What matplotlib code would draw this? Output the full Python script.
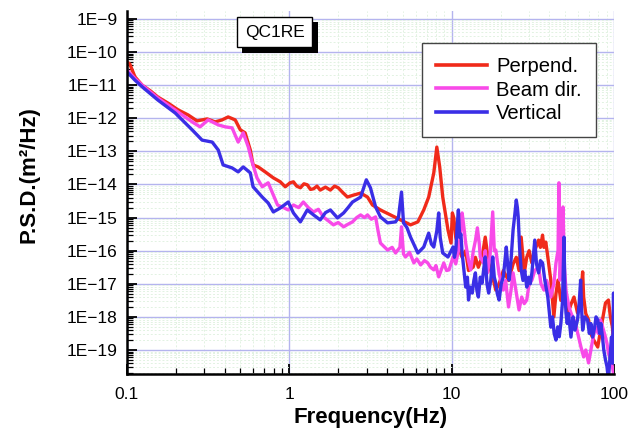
import numpy as np
import matplotlib
matplotlib.use("Agg")
import matplotlib.pyplot as plt
from matplotlib.ticker import LogLocator, FixedLocator, FuncFormatter, NullFormatter
import matplotlib.patheffects as pe

plt.rcParams['font.family'] = ['Liberation Sans', 'DejaVu Sans']

# Perpend. : frequency (Hz) and log10 of PSD (m^2/Hz)
perp_f = [0.100, 0.104, 0.112, 0.124, 0.140, 0.155, 0.180, 0.207, 0.238, 0.270,
          0.312, 0.349, 0.385, 0.420, 0.464, 0.499, 0.534, 0.575, 0.598, 0.643,
          0.710, 0.797, 0.880, 0.944, 1.01, 1.06, 1.11, 1.17, 1.23, 1.29,
          1.35, 1.41, 1.48, 1.55, 1.67, 1.79, 1.90, 2.00, 2.14, 2.28,
          2.49, 2.75, 3.03, 3.25, 3.64, 4.20, 4.84, 5.58, 6.19, 6.73,
          7.22, 7.76, 8.10, 8.44, 8.81, 9.49, 9.91, 10.1, 10.3, 10.6,
          11.0, 11.6, 12.2, 12.7, 13.6, 14.0, 14.6, 15.4, 16.1, 16.9,
          17.9, 18.7, 19.6, 20.8, 22.4, 23.9, 25.0, 26.0, 26.8, 28.0,
          29.0, 30.0, 31.2, 32.5, 34.3, 35.2, 36.3, 37.0, 38.0, 39.1,
          40.8, 42.6, 43.9, 45.2, 47.0, 49.0, 52.1, 54.5, 56.7, 59.6,
          62.0, 64.1, 65.0, 67.0, 69.7, 71.8, 75.0, 79.4, 82.0, 84.9,
          88.6, 92.4, 95.0, 97.8, 100.0]
perp_log = [-10.30, -10.36, -10.75, -11.00, -11.18, -11.36, -11.55, -11.75, -11.90, -12.08,
            -12.02, -12.11, -12.05, -11.96, -12.05, -12.35, -12.44, -12.96, -13.41, -13.47,
            -13.62, -13.80, -13.92, -14.07, -13.95, -13.92, -14.05, -14.10, -13.98, -14.01,
            -14.15, -14.13, -14.05, -14.17, -14.08, -14.17, -14.05, -14.10, -14.25, -14.38,
            -14.32, -14.26, -14.38, -14.62, -14.77, -14.92, -15.07, -15.22, -15.13, -14.77,
            -14.38, -13.65, -12.87, -13.47, -14.38, -15.37, -15.77, -14.86, -15.00, -15.60,
            -15.90, -16.20, -16.00, -16.60, -16.49, -16.20, -16.50, -16.19, -15.59, -16.37,
            -16.80, -17.19, -17.00, -16.60, -16.90, -16.40, -16.20, -16.60, -15.59, -16.67,
            -16.20, -16.00, -16.37, -16.00, -15.68, -15.90, -15.53, -15.90, -15.74, -16.19,
            -16.89, -18.00, -17.30, -16.89, -17.50, -17.20, -17.88, -17.60, -17.40, -17.88,
            -17.60, -16.64, -17.40, -17.90, -18.09, -18.49, -18.70, -18.91, -18.50, -18.09,
            -17.58, -17.49, -18.00, -18.31, -19.00]

# Beam dir.
beam_f = [0.100, 0.112, 0.124, 0.155, 0.198, 0.252, 0.282, 0.316, 0.365, 0.403,
          0.444, 0.484, 0.520, 0.559, 0.590, 0.632, 0.681, 0.741, 0.797, 0.846,
          0.904, 0.985, 1.06, 1.14, 1.22, 1.31, 1.41, 1.51, 1.62, 1.74,
          1.87, 2.00, 2.16, 2.30, 2.45, 2.60, 2.75, 2.90, 3.03, 3.20,
          3.40, 3.52, 3.64, 4.03, 4.30, 4.51, 4.80, 4.91, 5.05, 5.20,
          5.50, 5.85, 6.10, 6.44, 6.80, 7.12, 7.40, 7.76, 8.00, 8.32,
          8.94, 9.30, 9.63, 10.2, 10.6, 11.0, 11.3, 11.6, 11.9, 12.2,
          12.7, 13.1, 13.6, 14.0, 14.4, 14.8, 15.0, 15.7, 16.1, 16.6,
          17.2, 17.9, 18.3, 18.7, 19.6, 20.8, 21.5, 22.4, 23.2, 23.9,
          24.5, 25.0, 26.0, 27.0, 28.0, 29.0, 30.0, 31.2, 32.5, 34.3,
          35.5, 37.0, 38.5, 40.8, 42.6, 43.9, 45.2, 45.8, 46.5, 47.5,
          48.5, 49.5, 50.6, 52.8, 54.5, 56.7, 58.5, 60.5, 62.5, 65.0,
          67.0, 69.7, 72.0, 74.5, 77.1, 80.0, 82.5, 85.0, 88.6, 90.5,
          92.4, 95.0, 97.8, 100.0]
beam_log = [-10.54, -10.80, -11.00, -11.39, -11.75, -12.11, -12.26, -12.05, -12.20, -12.26,
            -12.29, -12.72, -12.44, -12.87, -13.32, -13.80, -14.07, -13.95, -14.32, -14.62,
            -14.68, -14.77, -14.62, -14.70, -14.53, -14.70, -14.83, -14.75, -14.98, -15.10,
            -15.22, -15.15, -15.28, -15.20, -15.13, -15.00, -14.92, -15.00, -14.92, -15.05,
            -14.98, -15.40, -15.77, -15.98, -15.90, -16.07, -15.90, -15.28, -16.10, -16.19,
            -16.05, -16.37, -16.25, -16.43, -16.30, -16.37, -16.50, -16.58, -16.45, -16.79,
            -16.37, -16.60, -16.58, -16.19, -16.40, -16.00, -15.60, -14.86, -15.30, -15.77,
            -16.30, -16.58, -16.00, -15.70, -15.31, -15.80, -16.19, -16.37, -16.00, -16.67,
            -16.20, -14.83, -16.00, -15.98, -16.70, -17.19, -16.90, -17.70, -17.20, -16.67,
            -17.00, -17.28, -17.79, -17.40, -17.60, -17.49, -17.00, -16.89, -16.60, -16.49,
            -17.00, -17.19, -16.90, -17.40, -17.00, -16.37, -16.00, -13.95, -16.89, -16.00,
            -14.68, -16.50, -17.19, -17.70, -17.90, -18.09, -18.30, -18.61, -18.90, -19.21,
            -19.00, -19.39, -19.00, -18.60, -18.31, -18.50, -18.09, -18.30, -18.61, -18.80,
            -19.09, -19.30, -19.51, -19.80]

# Vertical
vert_f = [0.100, 0.112, 0.124, 0.155, 0.198, 0.252, 0.290, 0.335, 0.365, 0.391,
          0.444, 0.484, 0.520, 0.575, 0.598, 0.681, 0.741, 0.797, 0.880, 0.985,
          1.06, 1.17, 1.29, 1.41, 1.55, 1.67, 1.79, 1.98, 2.16, 2.30,
          2.45, 2.75, 2.98, 3.16, 3.40, 3.64, 4.03, 4.51, 4.70, 4.91,
          5.05, 5.30, 5.58, 6.19, 6.73, 7.22, 7.50, 7.76, 8.10, 8.32,
          8.50, 8.81, 9.49, 10.2, 10.4, 10.6, 10.8, 11.0, 11.2, 11.4,
          11.6, 11.9, 12.2, 12.5, 12.7, 13.0, 13.4, 13.7, 14.0, 14.3,
          14.6, 15.0, 15.4, 15.8, 16.1, 16.5, 16.9, 17.4, 17.9, 18.3,
          18.7, 19.1, 19.6, 20.2, 20.8, 21.2, 21.7, 22.2, 22.6, 23.2,
          23.9, 24.5, 25.0, 25.4, 25.7, 26.2, 26.8, 27.5, 28.2, 29.0,
          29.8, 30.5, 31.2, 31.8, 32.5, 33.3, 34.3, 35.2, 36.3, 37.5,
          39.1, 40.0, 40.8, 41.8, 42.8, 43.9, 45.0, 46.0, 47.1, 48.2,
          49.2, 49.8, 50.6, 51.5, 52.5, 54.3, 56.0, 57.5, 59.6, 61.0,
          62.3, 63.2, 64.1, 66.0, 68.7, 70.5, 72.0, 73.9, 76.0, 77.5,
          79.4, 81.5, 83.0, 84.9, 86.5, 88.6, 90.5, 92.4, 94.5, 96.5,
          97.8, 98.6, 99.3, 100.0]
vert_log = [-10.60, -10.85, -11.05, -11.45, -11.84, -12.35, -12.66, -12.72, -12.96, -13.41,
            -13.50, -13.62, -13.47, -13.65, -14.07, -14.38, -14.56, -14.83, -14.71, -14.53,
            -14.86, -15.13, -14.77, -14.92, -15.07, -14.85, -14.77, -15.01, -14.86, -14.70,
            -14.53, -14.38, -13.86, -14.10, -14.68, -14.98, -15.16, -15.13, -15.00, -14.23,
            -15.16, -15.30, -15.59, -16.07, -15.89, -15.47, -15.80, -15.89, -15.40, -14.86,
            -15.60, -16.07, -16.19, -15.89, -16.20, -16.00, -15.30, -14.77, -15.60, -15.50,
            -16.07, -16.60, -17.10, -16.80, -17.49, -17.10, -17.28, -16.90, -16.67, -17.20,
            -17.40, -16.80, -16.98, -16.50, -16.19, -17.00, -17.28, -16.90, -16.19, -16.80,
            -16.98, -17.30, -17.49, -17.00, -16.79, -16.40, -15.89, -16.50, -16.89, -16.30,
            -15.37, -14.90, -14.47, -14.70, -14.98, -15.90, -16.58, -16.90, -16.60, -17.10,
            -16.80, -17.00, -16.67, -16.20, -15.68, -16.40, -16.67, -16.30, -16.37, -16.90,
            -17.40, -17.90, -18.31, -18.00, -18.50, -18.70, -18.30, -18.60, -18.18, -17.50,
            -15.59, -17.20, -17.88, -18.20, -17.90, -18.61, -18.00, -18.40, -18.09, -17.60,
            -16.89, -17.80, -18.40, -18.00, -18.09, -18.50, -18.20, -18.61, -18.30, -18.00,
            -18.09, -18.50, -18.20, -18.61, -19.00, -19.30, -19.50, -19.90, -19.20, -18.61,
            -19.40, -18.40, -17.28, -18.50]

series = [("Perpend.", perp_f, perp_log, "#f02a1a"),
          ("Beam dir.", beam_f, beam_log, "#f84ae8"),
          ("Vertical", vert_f, vert_log, "#3a2ee6")]

fig = plt.figure(figsize=(6.42, 4.36), dpi=100)
ax = fig.add_axes([0.1978, 0.1422, 0.7586, 0.8326])

for name, f, lg, col in series:
    ax.plot(f, 10 ** np.array(lg), color=col, lw=2.4, label=name)

ax.set_xscale("log")
ax.set_yscale("log")
ax.set_xlim(0.1, 100)
ax.set_ylim(10 ** -19.725, 10 ** -8.76)

ax.xaxis.set_major_locator(FixedLocator([0.1, 1, 10, 100]))
ax.xaxis.set_major_formatter(FuncFormatter(lambda v, p: "%g" % v))
ax.xaxis.set_minor_locator(LogLocator(base=10, subs=np.arange(2, 10)))
ax.xaxis.set_minor_formatter(NullFormatter())
ax.yaxis.set_major_locator(FixedLocator(10.0 ** np.arange(-19, -8)))
ax.yaxis.set_major_formatter(FuncFormatter(lambda v, p: "1E\u2212%d" % round(-np.log10(v))))
ax.yaxis.set_minor_locator(LogLocator(base=10, subs=np.arange(2, 10), numticks=30))
ax.yaxis.set_minor_formatter(NullFormatter())

ax.tick_params(which="both", direction="in", labelsize=12.5, colors="black")
ax.tick_params(which="major", length=7, width=1.3)
ax.tick_params(which="minor", length=4, width=0.9)
ax.tick_params(axis="x", pad=9)
ax.tick_params(axis="y", pad=7)

ax.grid(which="major", color="#b4b4ee", lw=1.0)
ax.grid(which="minor", color="#e2f2e2", lw=0.7, ls=(0, (2, 2)))
ax.set_axisbelow(True)

for s in ["top", "right"]:
    ax.spines[s].set_visible(False)
for s in ["left", "bottom"]:
    ax.spines[s].set_linewidth(1.8)

ax.set_xlabel("Frequency(Hz)", fontsize=16, fontweight="bold")
ax.set_ylabel("P.S.D.(m\u00b2/Hz)", fontsize=16, fontweight="bold")
ax.yaxis.set_label_coords(-0.18, 0.55)

leg = ax.legend(loc="upper left", bbox_to_anchor=(0.606, 0.912), borderaxespad=0,
                fontsize=14.6, frameon=True, fancybox=False, handlelength=2.5,
                handletextpad=0.45, labelspacing=0.22, borderpad=0.7, framealpha=1)
leg.get_frame().set_edgecolor("#444444")
leg.get_frame().set_linewidth(1.0)
for h in leg.get_lines():
    h.set_linewidth(2.6)

t = ax.text(0.303, 0.942, "QC1RE", transform=ax.transAxes, fontsize=12.5,
            ha="center", va="center",
            bbox=dict(boxstyle="square,pad=0.45", fc="white", ec="black", lw=1.0))
t.get_bbox_patch().set_path_effects([pe.SimplePatchShadow(offset=(4, -4), shadow_rgbFace="black", alpha=1.0), pe.Normal()])

fig.savefig("out.png", dpi=100)
